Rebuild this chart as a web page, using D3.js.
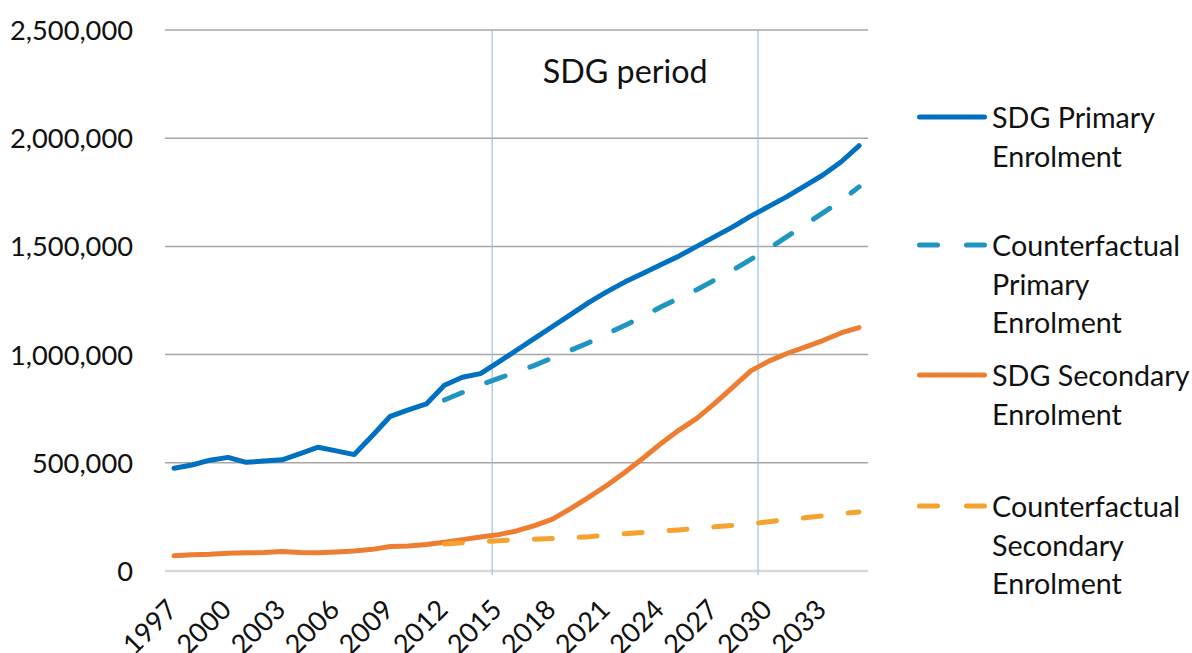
<!DOCTYPE html>
<html>
<head>
<meta charset="utf-8">
<script src="https://cdn.jsdelivr.net/npm/d3@7"></script>
<style>
  html, body { margin: 0; padding: 0; background: #ffffff; }
  svg { display: block; }
</style>
</head>
<body>
<svg id="chart" width="1192" height="653"></svg>
<script>
// ---------------- DATA ----------------
const years = [1997, 1998, 1999, 2000, 2001, 2002, 2003, 2004, 2005, 2006,
               2007, 2008, 2009, 2010, 2011, 2012, 2013, 2014, 2015, 2016,
               2017, 2018, 2019, 2020, 2021, 2022, 2023, 2024, 2025, 2026,
               2027, 2028, 2029, 2030, 2031, 2032, 2033, 2034, 2035];

const sdgPrimary = [475000, 490000, 512000, 525000, 502000, 508000, 514000, 542000, 572000, 555000,
                    538000, 625000, 715000, 745000, 772000, 858000, 895000, 912000, 965000, 1020000,
                    1075000, 1130000, 1185000, 1240000, 1290000, 1335000, 1375000, 1415000, 1455000, 1500000,
                    1545000, 1590000, 1640000, 1685000, 1730000, 1780000, 1830000, 1890000, 1965000];

const cfPrimary = [null, null, null, null, null, null, null, null, null, null,
                   null, null, null, null, null, 790000, 825000, 860000, 890000, 920000,
                   950000, 985000, 1020000, 1055000, 1095000, 1135000, 1175000, 1220000, 1260000, 1300000,
                   1345000, 1390000, 1440000, 1490000, 1545000, 1600000, 1655000, 1710000, 1775000];

const sdgSecondary = [70000, 75000, 77000, 82000, 84000, 85000, 90000, 85000, 84000, 88000,
                      92000, 100000, 113000, 115000, 122000, 133000, 145000, 157000, 168000, 185000,
                      210000, 240000, 288000, 340000, 395000, 455000, 520000, 588000, 650000, 705000,
                      775000, 850000, 925000, 970000, 1005000, 1035000, 1065000, 1100000, 1125000];

const cfSecondary = [null, null, null, null, null, null, null, null, null, null,
                     null, null, null, null, null, 125000, 130000, 135000, 140000, 144000,
                     147000, 150000, 154000, 158000, 165000, 172000, 178000, 184000, 190000, 197000,
                     204000, 211000, 218000, 228000, 237000, 246000, 255000, 264000, 273000];

const yTicks = [0, 500000, 1000000, 1500000, 2000000, 2500000];
const xTickLabels = [1997, 2000, 2003, 2006, 2009, 2012, 2015, 2018, 2021, 2024, 2027, 2030, 2033];

const periodMarkers = [2014.65, 2029.4];   // "SDG period" boundary lines
const periodLabel = "SDG period";

const seriesNames = [
  ["SDG Primary", "Enrolment"],
  ["Counterfactual", "Primary", "Enrolment"],
  ["SDG Secondary", "Enrolment"],
  ["Counterfactual", "Secondary", "Enrolment"]
];

// ---------------- LAYOUT / STYLE ----------------
const FONT = "Lato, 'Open Sans', sans-serif";
const TEXT = "#111111";
const plot = { left: 165, right: 868, top: 30, bottom: 571 };

const svg = d3.select("#chart");

function fitSize(text, targetWidth) {
  const t = svg.append("text").attr("font-family", FONT).attr("font-size", 100).text(text);
  const w = t.node().getComputedTextLength();
  t.remove();
  return 100 * targetWidth / w;
}
const tickFont = fitSize("2,500,000", 123);
const legendFont = fitSize("Counterfactual", 188);
const periodFont = fitSize(periodLabel, 165);

const x = d3.scaleLinear().domain([years[0] - 0.5, years[years.length - 1] + 0.5])
  .range([plot.left, plot.right]);
const y = d3.scaleLinear().domain([0, 2500000]).range([plot.bottom, plot.top]);

// gridlines
svg.append("g")
  .selectAll("line")
  .data(yTicks.filter(d => d > 0))
  .join("line")
  .attr("x1", plot.left).attr("x2", plot.right)
  .attr("y1", d => y(d)).attr("y2", d => y(d))
  .attr("stroke", "#a6a6a6").attr("stroke-width", 1.5);

// y axis labels via d3 axis
const yAxis = d3.axisLeft(y).tickValues(yTicks).tickFormat(d3.format(",")).tickSize(0).tickPadding(0);
const gy = svg.append("g").attr("transform", `translate(133,0)`).call(yAxis);
gy.select(".domain").remove();
gy.selectAll("text")
  .attr("font-family", FONT).attr("font-size", tickFont).attr("fill", TEXT)
  .attr("dy", "0.35em");

// x axis line
svg.append("line")
  .attr("x1", plot.left).attr("x2", plot.right)
  .attr("y1", y(0)).attr("y2", y(0))
  .attr("stroke", "#d9d9d9").attr("stroke-width", 2.5);

// period markers
svg.append("g")
  .selectAll("line")
  .data(periodMarkers)
  .join("line")
  .attr("x1", d => x(d)).attr("x2", d => x(d))
  .attr("y1", plot.top).attr("y2", y(0) + 4)
  .attr("stroke", "#9cc3e5").attr("stroke-width", 1.2);

svg.append("text")
  .attr("x", x(d3.mean(periodMarkers))).attr("y", 70)
  .attr("text-anchor", "middle").attr("dominant-baseline", "central")
  .attr("font-family", FONT).attr("font-size", periodFont).attr("fill", TEXT)
  .text(periodLabel);

// x tick labels
const xAxis = d3.axisBottom(x).tickValues(xTickLabels).tickFormat(d3.format("d")).tickSize(0).tickPadding(0);
const gx = svg.append("g").attr("transform", `translate(0,${y(0)})`).call(xAxis);
gx.select(".domain").remove();
gx.selectAll("text")
  .attr("font-family", FONT).attr("font-size", tickFont).attr("fill", TEXT)
  .attr("text-anchor", "end")
  .attr("dy", null).attr("y", 0)
  .attr("dominant-baseline", "central")
  .attr("transform", "translate(-3,33) rotate(-45)");

// lines
const series = [
  { values: sdgPrimary,   color: "#0070c0", dash: null },
  { values: cfPrimary,    color: "#1f95c2", dash: "19.5,26.3" },
  { values: sdgSecondary, color: "#ed7d31", dash: null },
  { values: cfSecondary,  color: "#f5a22e", dash: "18,27" }
];
const line = d3.line()
  .defined(d => d.v !== null)
  .x(d => x(d.year)).y(d => y(d.v));

svg.append("g")
  .selectAll("path")
  .data([series[0], series[2], series[1], series[3]])
  .join("path")
  .attr("d", s => line(years.map((yr, i) => ({ year: yr, v: s.values[i] }))))
  .attr("fill", "none")
  .attr("stroke", s => s.color)
  .attr("stroke-width", 5)
  .attr("stroke-linecap", "round")
  .attr("stroke-linejoin", "round")
  .attr("stroke-dasharray", s => s.dash);

// legend
const legendY = [117, 245, 375, 506];
const lineGap = 38.5;
const lg = svg.append("g");
series.forEach((s, i) => {
  lg.append("line")
    .attr("x1", 919.5).attr("x2", 984.5)
    .attr("y1", legendY[i]).attr("y2", legendY[i])
    .attr("stroke", s.color).attr("stroke-width", 5)
    .attr("stroke-linecap", "round")
    .attr("stroke-dasharray", s.dash ? "18,29" : null);
  const t = lg.append("text")
    .attr("x", 992).attr("y", legendY[i])
    .attr("font-family", FONT).attr("font-size", legendFont).attr("fill", TEXT);
  seriesNames[i].forEach((ln, k) => {
    t.append("tspan").attr("x", 992).attr("y", legendY[i] + k * lineGap)
      .attr("dominant-baseline", "central").text(ln);
  });
});
</script>
</body>
</html>
